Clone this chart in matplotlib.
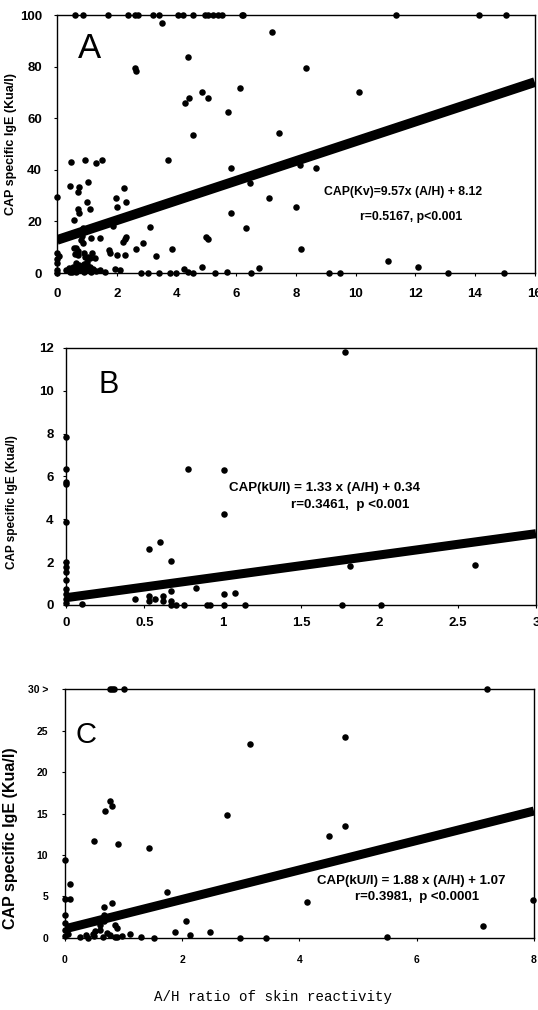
import numpy as np
import matplotlib
matplotlib.use('Agg')
import matplotlib.pyplot as plt

plt.rcParams['font.family'] = ['Liberation Sans', 'DejaVu Sans']

# panel A  (A/H ratio vs CAP IgE)
a_x = [0.6, 0.86, 1.7, 2.38, 2.6, 2.72, 3.2, 3.42, 4.06, 4.22, 4.56, 4.95, 5.06, 5.23, 5.4, 5.54,
       6.18, 6.23, 11.36, 14.12, 15.04,
       3.53, 2.61, 2.64, 4.37, 4.3, 4.42, 4.86, 5.06, 4.54, 5.71, 6.12, 5.84, 3.7, 6.45, 6.34, 5.84,
       5.0, 5.07, 3.11, 2.87, 2.64, 3.31, 3.85, 4.84, 4.26, 4.4, 6.77, 6.51,
       7.19, 8.35, 10.11, 7.42, 8.13, 8.68, 7.1, 8.02, 8.18, 11.08, 12.08, 9.1, 9.49, 13.09, 14.98,
       0, 0, 0, 0, 0, 0, 0.05,
       0.46, 0.94, 1.3, 1.5, 0.43, 0.74, 0.69, 1.03, 1.01, 1.1, 0.69, 0.74, 0.57, 0.83, 0.88, 1.44,
       1.14, 0.88, 0.57, 0.64, 0.71, 0.94, 1.05, 1.18, 1.27, 1.77, 1.75, 2.02, 2.27, 1.97, 2.02, 2.24,
       2.31, 1.86, 2.27, 2.32, 2.22, 0.8, 0.85,
       0.3, 0.4, 0.5, 0.55, 0.6, 0.65, 0.7, 0.75, 0.8, 0.85, 0.9, 0.95, 1.0, 1.05, 1.1, 1.15, 1.2,
       1.3, 0.45, 0.9, 0.62, 1.0, 1.45, 1.6, 1.95, 2.1, 2.8, 3.05, 3.4, 3.8, 4.0, 4.55, 5.3, 5.7,
       0.6, 0.7, 0.9, 1.1]
a_y = [100] * 21 + \
      [97, 79.3, 78.5, 83.6, 65.8, 68, 70.3, 68, 53.5, 62.5, 71.6, 40.6, 43.8, 34.8, 17.3, 23.1,
       14, 13, 18, 11.5, 9.2, 6.6, 9.2, 2.4, 1.5, 0.5, 2, 0,
       93.5, 79.3, 70.3, 54.1, 41.9, 40.6, 29, 25.4, 9.2, 4.8, 2.5, 0, 0, 0, 0,
       29.5, 7.7, 5.6, 3.9, 1.3, 0, 6.5,
       43.1, 44, 42.7, 44, 33.7, 33.2, 31.3, 35.4, 27.6, 25, 25, 23.1, 20.5, 16.7, 17.4, 13.4,
       13.4, 11.5, 9.6, 9.6, 7, 6.3, 6.3, 7.6, 5.7, 7.6, 9, 7, 7, 29, 25.4, 32.8,
       27.6, 18.2, 13, 14, 12.1, 12.8, 14.5,
       1, 2, 0.5, 2.5, 1.5, 0.3, 2, 3, 1, 2.2, 0.5, 1.8, 3, 1, 2.4, 0.4, 1.5,
       0.8, 0.2, 3.5, 4.0, 4.4, 1, 0.3, 1.5, 1.2, 0, 0, 0, 0, 0, 0, 0, 0.5,
       7.5, 8.5, 7.8, 6]
a_fit_x = [0, 16]
a_fit_y = [12.8, 74.0]

# panel B
b_x = [0] * 13 + \
      [0.78, 1.01, 1.01, 0.53, 0.6, 0.67, 0.44, 0.53, 0.53, 0.57, 0.62, 0.62, 0.67, 0.67, 0.67,
       0.7, 0.75, 0.83, 1.01, 1.08, 0.9, 0.92, 1.01, 1.14, 0.1, 1.78, 1.81, 2.61, 1.76, 2.01]
b_y = [7.85, 6.37, 5.75, 5.64, 3.88, 2.0, 1.78, 1.54, 1.17, 0.76, 0.53, 0.3, 0.07] + \
      [6.34, 6.29, 4.27, 2.6, 2.94, 2.04, 0.3, 0.42, 0.17, 0.3, 0.42, 0.17, 0.64, 0.17, 0,
       0, 0, 0.81, 0.5, 0.57, 0, 0, 0, 0, 0.05, 11.8, 1.81, 1.85, 0, 0]
b_fit_x = [0, 3]
b_fit_y = [0.34, 3.33]

# panel C
c_x = [0.76, 0.8, 0.84, 1.01, 7.2,
       3.16, 2.76, 0.76, 0.68, 0.81, 0.5, 0.9, 1.43, 0, 0.09, 0, 0.09, 0, 0.66, 0.81, 0.67, 1.74,
       2.06, 2.14, 1.87, 2.48, 2.99, 3.43, 0.86, 0.89, 1.52, 1.3, 1.11, 0.98, 0.76, 0.59, 0.35,
       0, 0, 0.05, 0, 0.5, 0.65, 0.86, 0.89, 0.47, 0.59, 0.67, 0.52,
       4.77, 4.77, 4.5, 4.13, 7.98, 5.49, 7.13, 0.72, 0.25, 0.4]
c_y = [30, 30, 30, 30, 30,
       23.4, 14.8, 16.5, 15.3, 15.9, 11.7, 11.3, 10.9, 9.4, 6.5, 4.7, 4.7, 2.8, 3.7, 4.2, 2.8, 5.6,
       2.1, 0.4, 0.7, 0.7, 0, 0, 1.6, 1.2, 0, 0.1, 0.5, 0.2, 0.3, 1.0, 0.4,
       1.8, 1.0, 0.5, 0.2, 0.2, 0.1, 0.1, 0.1, 0.5, 1.6, 2.0, 0.9,
       24.2, 13.5, 12.3, 4.3, 4.6, 0.1, 1.4, 0.6, 0.1, 0.0]
c_fit_x = [0, 8]
c_fit_y = [1.1, 15.3]

ylabel = 'CAP specific IgE (Kua/l)'

fig = plt.figure(figsize=(5.38, 10.10), dpi=100)


def panel(rect, xs, ys, fx, fy, xlim, ylim, xt, yt, lw):
    ax = fig.add_axes(rect)
    ax.scatter(xs, ys, s=22, c='black', clip_on=False, zorder=3, linewidths=0)
    ax.plot(fx, fy, c='black', lw=lw, solid_capstyle='butt', zorder=2)
    ax.set_xlim(*xlim)
    ax.set_ylim(*ylim)
    ax.set_xticks(xt)
    ax.set_yticks(yt)
    for s in ax.spines.values():
        s.set_linewidth(1.0)
    ax.tick_params(length=2, width=0.8)
    return ax


# A
ax1 = panel([0.106, 0.7297, 0.888, 0.2554], a_x, a_y, a_fit_x, a_fit_y,
            (0, 16), (0, 100), np.arange(0, 17, 2), np.arange(0, 101, 20), 7)
ax1.tick_params(labelsize=9.5, pad=9)
for t in ax1.get_xticklabels() + ax1.get_yticklabels():
    t.set_fontweight('bold')
ax1.set_ylabel(ylabel, fontsize=9, fontweight='bold')
ax1.yaxis.set_label_coords(-0.083, 0.5)
ax1.text(0.044, 0.934, 'A', transform=ax1.transAxes, fontsize=25, va='top', ha='left')
ax1.text(0.724, 0.315, 'CAP(Kv)=9.57x (A/H) + 8.12', transform=ax1.transAxes,
         fontsize=8.8, fontweight='bold', ha='center', va='center')
ax1.text(0.741, 0.217, 'r=0.5167, p<0.001', transform=ax1.transAxes,
         fontsize=8.8, fontweight='bold', ha='center', va='center')

# B
ax2 = panel([0.1227, 0.401, 0.8736, 0.2545], b_x, b_y, b_fit_x, b_fit_y,
            (0, 3), (0, 12), [0, 0.5, 1, 1.5, 2, 2.5, 3], np.arange(0, 13, 2), 6.5)
ax2.set_xticklabels(['0', '0.5', '1', '1.5', '2', '2.5', '3'])
ax2.tick_params(labelsize=9.5, pad=7)
for t in ax2.get_xticklabels() + ax2.get_yticklabels():
    t.set_fontweight('bold')
ax2.set_ylabel(ylabel, fontsize=8.5, fontweight='bold')
ax2.yaxis.set_label_coords(-0.102, 0.40)
ax2.text(0.07, 0.914, 'B', transform=ax2.transAxes, fontsize=22, va='top', ha='left')
ax2.text(0.55, 0.455, 'CAP(kU/l) = 1.33 x (A/H) + 0.34', transform=ax2.transAxes,
         fontsize=9.6, fontweight='bold', ha='center', va='center')
ax2.text(0.604, 0.389, 'r=0.3461,  p <0.001', transform=ax2.transAxes,
         fontsize=9.6, fontweight='bold', ha='center', va='center')

# C
ax3 = panel([0.1208, 0.0713, 0.8717, 0.2465], c_x, c_y, c_fit_x, c_fit_y,
            (0, 8), (0, 30), [0, 2, 4, 6, 8], np.arange(0, 31, 5), 6.5)
ax3.set_yticklabels(['0', '5', '10', '15', '20', '25', '30 >'])
ax3.tick_params(labelsize=7.5, pad=10)
for t in ax3.get_xticklabels() + ax3.get_yticklabels():
    t.set_fontweight('bold')
ax3.set_ylabel(ylabel, fontsize=11.5, fontweight='bold')
ax3.yaxis.set_label_coords(-0.1, 0.40)
ax3.text(0.023, 0.871, 'C', transform=ax3.transAxes, fontsize=21, va='top', ha='left')
ax3.text(0.739, 0.23, 'CAP(kU/l) = 1.88 x (A/H) + 1.07', transform=ax3.transAxes,
         fontsize=9.5, fontweight='bold', ha='center', va='center')
ax3.text(0.75, 0.163, 'r=0.3981,  p <0.0001', transform=ax3.transAxes,
         fontsize=9.5, fontweight='bold', ha='center', va='center')

fig.text(273.5 / 538, 1 - 997 / 1010, 'A/H ratio of skin reactivity',
         family='Liberation Mono', fontsize=10.2, ha='center', va='center')

fig.savefig('out.png', dpi=100)
